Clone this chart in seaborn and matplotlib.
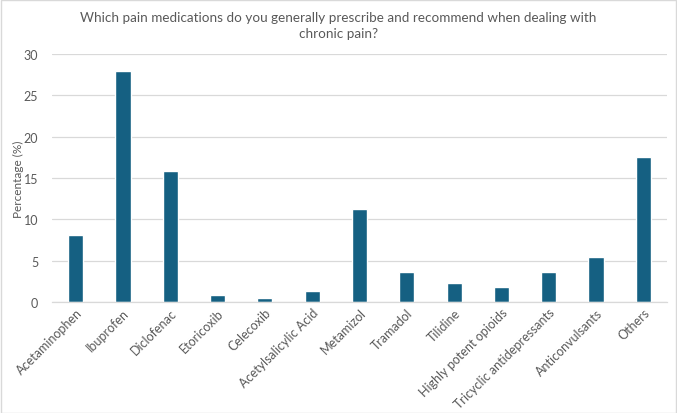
import matplotlib
matplotlib.use("Agg")
import matplotlib.pyplot as plt
import seaborn as sns
import pandas as pd

categories = ["Acetaminophen", "Ibuprofen", "Diclofenac", "Etoricoxib", "Celecoxib",
              "Acetylsalicylic Acid", "Metamizol", "Tramadol", "Tilidine",
              "Highly potent opioids", "Tricyclic antidepressants", "Anticonvulsants", "Others"]
values = [8.1, 28.0, 15.8, 0.9, 0.5, 1.3, 11.2, 3.6, 2.3, 1.8, 3.6, 5.4, 17.6]
yticks = [0, 5, 10, 15, 20, 25, 30]

sns.set_theme(style="white")
plt.rcParams['font.family'] = ['Lato', 'DejaVu Sans']

df = pd.DataFrame({"Medication": categories, "Percentage": values})

fig = plt.figure(figsize=(6.77, 4.14), dpi=100)
ax = fig.add_axes([52/677, 1 - 303/414, (667-52)/677, (303-55)/414])

sns.barplot(data=df, x="Medication", y="Percentage", color="#156082",
            width=0.32, saturation=1, ax=ax)

ax.set_ylim(0, 30)
ax.set_yticks(yticks)
ax.set_xlim(-0.5, len(categories) - 0.5)
ax.yaxis.grid(True, color="#D9D9D9", linewidth=0.9)
ax.set_axisbelow(True)
for s in ["top", "right", "left"]:
    ax.spines[s].set_visible(False)
ax.spines["bottom"].set_color("#D9D9D9")
ax.spines["bottom"].set_linewidth(0.9)

ax.tick_params(axis="both", length=0, colors="#595959", labelsize=9)
ax.tick_params(axis="y", pad=10)
ax.tick_params(axis="x", pad=3)
ax.set_xticks(range(len(categories)))
ax.set_xticklabels(categories, rotation=45, ha="right", rotation_mode="anchor")
ax.set_xlabel("")
ax.set_ylabel("")
fig.text(18/677, 1 - 179/414, "Percentage (%)", rotation=90, ha="center", va="center",
         color="#595959", fontsize=8.5)

fig.text(0.5, 1 - 26/414, "Which pain medications do you generally prescribe and recommend when dealing with\nchronic pain?",
         ha="center", va="center", fontsize=9.7, color="#595959", linespacing=1.35)

fig.patches.append(plt.Rectangle((0.001, 0.001), 0.997, 0.997, transform=fig.transFigure,
                                 fill=False, edgecolor="#D9D9D9", linewidth=1))

fig.savefig("out.png", dpi=100)
